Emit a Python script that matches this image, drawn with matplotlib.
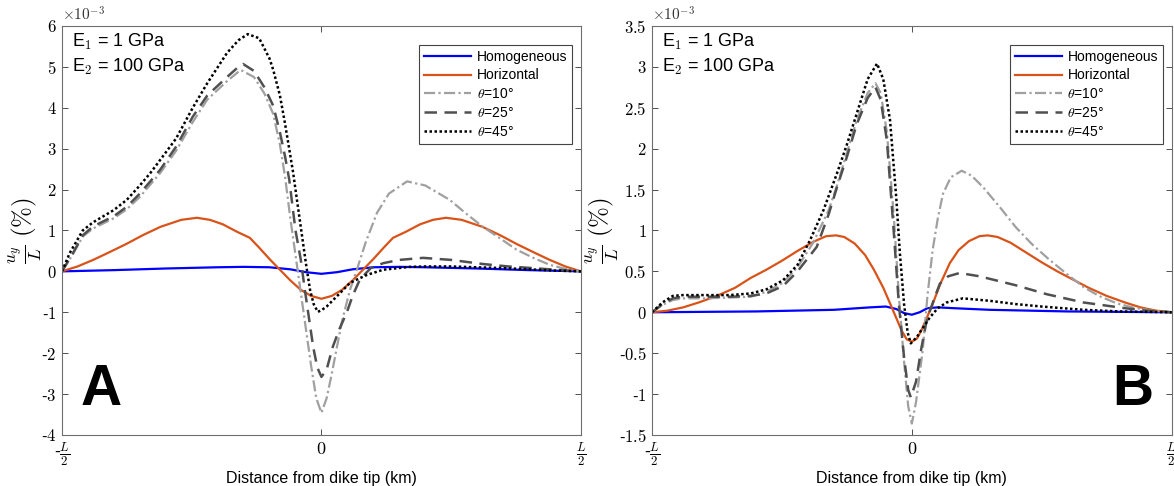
import matplotlib
matplotlib.use('Agg')
import matplotlib.pyplot as plt

plt.rcParams['font.family'] = ['Liberation Sans', 'DejaVu Sans']
plt.rcParams['mathtext.fontset'] = 'cm'

# ---- panel A data (x in units of L, y in 1e-3 %) ----
a_hom_x = [-0.5, -0.4, -0.3, -0.2, -0.15, -0.1, -0.06, -0.03, 0.0, 0.03, 0.06, 0.1, 0.15, 0.2, 0.3, 0.4, 0.5]
a_hom_y = [0.0, 0.03, 0.07, 0.1, 0.11, 0.1, 0.05, -0.02, -0.06, -0.02, 0.05, 0.1, 0.11, 0.1, 0.07, 0.03, 0.0]

a_hor_x = [-0.5, -0.47, -0.44, -0.41, -0.376, -0.345, -0.31, -0.27, -0.24, -0.215, -0.19, -0.163, -0.138,
           -0.12, -0.1, -0.08, -0.06, -0.04, -0.02, 0.0, 0.02, 0.04, 0.06, 0.08, 0.1, 0.12, 0.138, 0.163,
           0.19, 0.215, 0.24, 0.27, 0.31, 0.345, 0.376, 0.41, 0.44, 0.47, 0.5]
a_hor_y = [0.0, 0.12, 0.28, 0.46, 0.67, 0.88, 1.09, 1.26, 1.31, 1.26, 1.15, 0.97, 0.82,
           0.58, 0.3, 0.04, -0.22, -0.45, -0.6, -0.67, -0.6, -0.45, -0.22, 0.04, 0.3, 0.58, 0.82, 0.97,
           1.15, 1.26, 1.31, 1.26, 1.09, 0.88, 0.67, 0.46, 0.28, 0.12, 0.0]

a_t10_x = [-0.5, -0.48, -0.46, -0.44, -0.4, -0.375, -0.35, -0.311, -0.28, -0.248, -0.22, -0.182, -0.16,
           -0.155, -0.13, -0.11, -0.093, -0.08, -0.07, -0.06, -0.05, -0.04, -0.03, -0.02, -0.01, 0.0,
           0.01, 0.02, 0.03, 0.04, 0.055, 0.068, 0.085, 0.107, 0.13, 0.165, 0.2, 0.247, 0.28, 0.311,
           0.345, 0.376, 0.41, 0.44, 0.47, 0.5]
a_t10_y = [0.0, 0.4, 0.85, 1.05, 1.3, 1.52, 1.82, 2.4, 2.95, 3.65, 4.2, 4.65, 4.88,
           4.92, 4.75, 4.35, 3.85, 3.1, 2.3, 1.3, 0.4, -0.5, -1.4, -2.3, -3.1, -3.46,
           -3.1, -2.5, -1.84, -1.2, -0.45, 0.03, 0.7, 1.43, 1.9, 2.2, 2.1, 1.75, 1.4, 1.09,
           0.8, 0.53, 0.32, 0.16, 0.06, 0.0]

a_t25_x = [-0.5, -0.48, -0.46, -0.44, -0.4, -0.375, -0.35, -0.311, -0.28, -0.248, -0.22, -0.182, -0.16,
           -0.151, -0.13, -0.11, -0.093, -0.08, -0.07, -0.062, -0.05, -0.04, -0.032, -0.016, -0.008, 0.0,
           0.01, 0.022, 0.035, 0.049, 0.06, 0.074, 0.095, 0.119, 0.15, 0.196, 0.25, 0.311, 0.36, 0.407,
           0.45, 0.5]
a_t25_y = [0.0, 0.42, 0.88, 1.1, 1.35, 1.58, 1.9, 2.48, 3.05, 3.78, 4.3, 4.75, 5.0,
           5.07, 4.9, 4.5, 4.05, 3.4, 2.8, 2.24, 1.0, 0.3, -0.45, -1.84, -2.35, -2.58,
           -2.4, -1.84, -1.4, -1.0, -0.6, -0.2, 0.08, 0.2, 0.28, 0.33, 0.28, 0.18, 0.12, 0.08,
           0.04, 0.0]

a_t45_x = [-0.5, -0.485, -0.46, -0.44, -0.42, -0.4, -0.375, -0.35, -0.33, -0.311, -0.28, -0.248, -0.22,
           -0.182, -0.16, -0.142, -0.12, -0.1, -0.093, -0.08, -0.07, -0.055, -0.04, -0.03, -0.022,
           -0.015, -0.007, 0.0, 0.01, 0.036, 0.055, 0.087, 0.119, 0.17, 0.2, 0.25, 0.3, 0.35, 0.4, 0.45, 0.5]
a_t45_y = [0.0, 0.45, 1.0, 1.2, 1.35, 1.5, 1.75, 2.1, 2.4, 2.72, 3.25, 4.0, 4.6,
           5.34, 5.65, 5.8, 5.7, 5.2, 4.93, 4.3, 3.6, 2.45, 1.1, 0.2, -0.45,
           -0.8, -0.99, -0.95, -0.86, -0.53, -0.28, -0.09, 0.04, 0.11, 0.12, 0.12, 0.1, 0.08, 0.05, 0.02, 0.0]

# ---- panel B data ----
b_hom_x = [-0.5, -0.3, -0.15, -0.08, -0.05, -0.03, -0.015, 0.0, 0.015, 0.03, 0.05, 0.08, 0.15, 0.3, 0.5]
b_hom_y = [0.0, 0.01, 0.03, 0.06, 0.07, 0.04, -0.01, -0.03, 0.0, 0.05, 0.06, 0.05, 0.03, 0.01, 0.0]

b_hor_x = [-0.5, -0.47, -0.44, -0.41, -0.375, -0.34, -0.31, -0.28, -0.25, -0.22, -0.19, -0.165, -0.146,
           -0.13, -0.11, -0.09, -0.073, -0.055, -0.04, -0.03, -0.02, -0.01, 0.0, 0.01, 0.02, 0.03, 0.04,
           0.055, 0.073, 0.09, 0.11, 0.13, 0.146, 0.165, 0.19, 0.22, 0.25, 0.28, 0.31, 0.34, 0.375, 0.41,
           0.44, 0.47, 0.5]
b_hor_y = [0.0, 0.02, 0.06, 0.12, 0.2, 0.3, 0.42, 0.52, 0.63, 0.75, 0.86, 0.93, 0.94,
           0.92, 0.84, 0.7, 0.52, 0.3, 0.08, -0.07, -0.22, -0.33, -0.36, -0.32, -0.2, -0.05, 0.1,
           0.35, 0.6, 0.76, 0.87, 0.93, 0.94, 0.92, 0.85, 0.73, 0.61, 0.5, 0.4, 0.3, 0.2, 0.12,
           0.06, 0.02, 0.0]

b_t10_x = [-0.5, -0.48, -0.46, -0.44, -0.4, -0.35, -0.31, -0.28, -0.248, -0.22, -0.19, -0.16, -0.144,
           -0.125, -0.106, -0.085, -0.07, -0.06, -0.048, -0.035, -0.025, -0.015, -0.007, 0.0, 0.008,
           0.021, 0.03, 0.04, 0.05, 0.06, 0.075, 0.096, 0.115, 0.137, 0.17, 0.2, 0.23, 0.265, 0.3,
           0.33, 0.36, 0.394, 0.43, 0.47, 0.5]
b_t10_y = [0.0, 0.09, 0.15, 0.17, 0.17, 0.18, 0.19, 0.25, 0.36, 0.55, 0.85, 1.25, 1.55,
           1.95, 2.35, 2.68, 2.8, 2.68, 2.2, 1.2, 0.2, -0.6, -1.15, -1.36, -1.1,
           -0.46, 0.2, 0.76, 1.15, 1.45, 1.65, 1.73, 1.67, 1.53, 1.28, 1.04, 0.84, 0.64, 0.46,
           0.31, 0.2, 0.11, 0.05, 0.015, 0.0]

b_t25_x = [-0.5, -0.48, -0.46, -0.44, -0.4, -0.35, -0.31, -0.28, -0.248, -0.22, -0.183, -0.16, -0.144,
           -0.125, -0.106, -0.085, -0.07, -0.06, -0.048, -0.035, -0.025, -0.015, -0.007, -0.002, 0.008,
           0.018, 0.027, 0.035, 0.045, 0.054, 0.07, 0.092, 0.13, 0.2, 0.26, 0.33, 0.41, 0.45, 0.5]
b_t25_y = [0.0, 0.1, 0.17, 0.19, 0.19, 0.19, 0.2, 0.23, 0.32, 0.5, 0.8, 1.2, 1.53,
           1.9, 2.3, 2.62, 2.75, 2.6, 2.1, 1.0, 0.1, -0.55, -0.95, -1.04, -0.85,
           -0.45, -0.15, 0.02, 0.2, 0.35, 0.44, 0.48, 0.44, 0.33, 0.22, 0.12, 0.05, 0.02, 0.0]

b_t45_x = [-0.5, -0.48, -0.46, -0.44, -0.4, -0.35, -0.31, -0.28, -0.248, -0.22, -0.196, -0.17, -0.144,
           -0.125, -0.106, -0.085, -0.067, -0.055, -0.042, -0.03, -0.023, -0.015, -0.008, -0.002, 0.01,
           0.02, 0.035, 0.05, 0.067, 0.098, 0.15, 0.2, 0.25, 0.33, 0.4, 0.5]
b_t45_y = [0.0, 0.12, 0.2, 0.21, 0.21, 0.21, 0.23, 0.28, 0.39, 0.58, 0.88, 1.25, 1.7,
           2.05, 2.43, 2.85, 3.04, 2.85, 2.35, 1.4, 0.72, 0.1, -0.25, -0.38, -0.3,
           -0.2, -0.06, 0.05, 0.12, 0.17, 0.14, 0.1, 0.07, 0.03, 0.01, 0.0]

labels = ['Homogeneous', 'Horizontal', r'$\theta$=10°', r'$\theta$=25°', r'$\theta$=45°']
a_yticks = [-4, -3, -2, -1, 0, 1, 2, 3, 4, 5, 6]
b_yticks = [-1.5, -1, -0.5, 0, 0.5, 1, 1.5, 2, 2.5, 3, 3.5]

styles = [
    dict(color='#0000ff', linestyle='-', lw=1.6),
    dict(color='#d95319', linestyle='-', lw=1.6),
    dict(color='#a0a0a0', linestyle=(0, (5, 1.5, 1, 1.5)), lw=1.6),
    dict(color='#505050', linestyle=(0, (5, 3)), lw=1.8),
    dict(color='#000000', linestyle=(0, (1, 1)), lw=1.8),
]


def tick_label(v):
    s = ('%g' % v).replace('-', '')
    return ('-' if v < 0 else '') + '$' + s + '$'


def draw_panel(ax, series, yticks, letter, letter_x, letter_ha):
    for (x, y), lab, st in zip(series, labels, styles):
        ax.plot(x, y, label=lab, **st)
    ax.set_xlim(-0.5, 0.5)
    ax.set_ylim(yticks[0], yticks[-1])
    ax.set_xticks([-0.5, 0, 0.5])
    ax.set_xticklabels([r'-$\frac{L}{2}$', '$0$', r'$\frac{L}{2}$'], fontsize=13)
    ax.set_yticks(yticks)
    ax.set_yticklabels([tick_label(v) for v in yticks], fontsize=12)
    ax.tick_params(direction='in', length=4, width=0.6, color='#333333',
                   top=True, right=True, pad=4)
    for sp in ax.spines.values():
        sp.set_color('#6e6e6e')
        sp.set_linewidth(0.8)
    ax.set_xlabel('Distance from dike tip (km)', fontsize=11.5, labelpad=2)
    ax.set_ylabel(r'$\frac{u_y}{L}$ $(\%)$', fontsize=18, labelpad=-2)
    ax.text(0.0, 1.005, r'$\times10^{-3}$', transform=ax.transAxes, fontsize=11,
            va='bottom', ha='left', color='#333333')
    ax.text(0.02, 0.985, 'E$_{\\mathsf{1}}$ = 1 GPa', transform=ax.transAxes,
            fontsize=13, va='top', ha='left')
    ax.text(0.02, 0.925, 'E$_{\\mathsf{2}}$ = 100 GPa', transform=ax.transAxes,
            fontsize=13, va='top', ha='left')
    ax.text(letter_x, 0.045, letter, transform=ax.transAxes, fontsize=41,
            fontweight='bold', ha=letter_ha, va='bottom')
    leg = ax.legend(loc='upper right', bbox_to_anchor=(0.983, 0.954), borderaxespad=0,
                    fontsize=10, handlelength=3.4, handletextpad=0.4, labelspacing=0.35,
                    borderpad=0.35, fancybox=False, framealpha=1)
    leg.get_frame().set_edgecolor('#444444')
    leg.get_frame().set_linewidth(0.8)


fig = plt.figure(figsize=(11.74, 4.86), dpi=100)
ax_a = fig.add_axes([0.0528, 0.105, 0.442, 0.8416])
ax_b = fig.add_axes([0.5554, 0.105, 0.4426, 0.8416])

draw_panel(ax_a, [(a_hom_x, a_hom_y), (a_hor_x, a_hor_y), (a_t10_x, a_t10_y),
                  (a_t25_x, a_t25_y), (a_t45_x, a_t45_y)], a_yticks, 'A', 0.035, 'left')
draw_panel(ax_b, [(b_hom_x, b_hom_y), (b_hor_x, b_hor_y), (b_t10_x, b_t10_y),
                  (b_t25_x, b_t25_y), (b_t45_x, b_t45_y)], b_yticks, 'B', 0.965, 'right')

fig.savefig('out.png', dpi=100)
